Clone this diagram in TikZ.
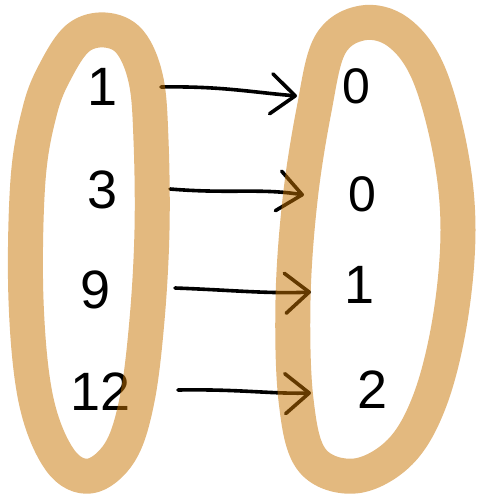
\documentclass[tikz,border=0pt]{standalone}
\usepackage{fontspec}
\setmainfont{Liberation Sans}
\usetikzlibrary{arrows.meta}
\definecolor{tanink}{RGB}{199,115,0}
\begin{document}
\begin{tikzpicture}[x=1pt,y=-1pt,
  ring/.style={draw=tanink, draw opacity=0.5, line width=35pt, line join=round},
  digit/.style={font=\fontsize{54}{56}\selectfont, inner sep=0pt},
  small digit/.style={font=\fontsize{50}{52}\selectfont, inner sep=0pt},
  mapto/.style={line width=3.6pt, line cap=round,
    -{Straight Barb[length=24pt,width=40pt,line cap=round,line join=round]}}]
\useasboundingbox (0,0) rectangle (478,495);
% numbers
\node[digit] (a1) at (103,87) {1};
\node[digit] (a2) at (103,190) {3};
\node[digit] (a3) at (96,290) {9};
\node[digit] (a4) at (101,392) {12};
\node[small digit] (b1) at (356,86) {0};
\node[small digit] (b2) at (362,194) {0};
\node[digit] (b3) at (360,285) {1};
\node[digit] (b4) at (373,390) {2};
% arrow ends
\coordinate (s1) at (161,87);  \coordinate (t1) at (297,96);
\coordinate (s2) at (170,189); \coordinate (t2) at (304,195);
\coordinate (s3) at (175,288); \coordinate (t3) at (311,292);
\coordinate (s4) at (178,390); \coordinate (t4) at (311,393);
\draw[mapto] (s1) .. controls (220,86) and (250,92) .. (t1);
\draw[mapto] (s2) .. controls (230,194) and (260,188) .. (t2);
\draw[mapto] (s3) .. controls (230,290) and (270,294) .. (t3);
\draw[mapto] (s4) .. controls (240,389) and (270,394) .. (t4);
% rings
\draw[ring] plot[smooth cycle, tension=0.6] coordinates {
  (105,30) (130,42) (146,80) (151,140) (152,230) (147,320) (137,400) (120,452)
  (90,476) (60,460) (36,400) (26,300) (28,180) (40,110) (56,70) (78,38)};
\draw[ring] plot[smooth cycle, tension=0.6] coordinates {
  (362,23) (398,32) (428,72) (450,150) (458,230) (450,320) (430,400)
  (400,452) (355,476) (312,460) (296,400) (293,300) (300,200) (314,110) (330,45)};
\end{tikzpicture}
\end{document}
